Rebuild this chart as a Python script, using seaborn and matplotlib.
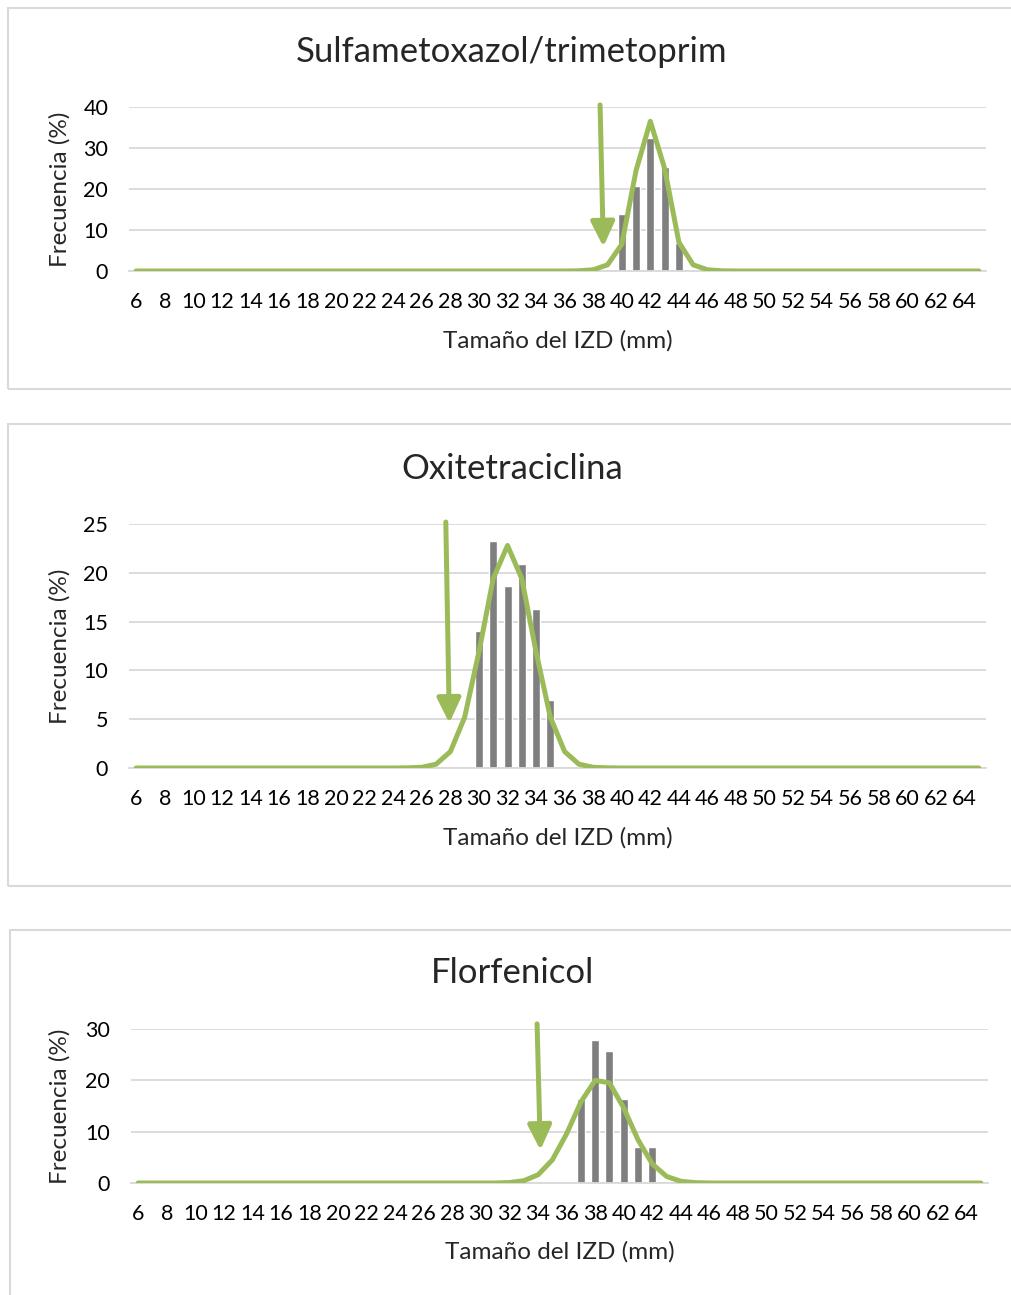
import numpy as np
import matplotlib
matplotlib.use('Agg')
import matplotlib.pyplot as plt
from matplotlib.patches import Rectangle
import seaborn as sns

# zone diameter categories (mm)
mm = list(range(6, 66))

titles = ['Sulfametoxazol/trimetoprim', 'Oxitetraciclina', 'Florfenicol']
x_label = 'Tamaño del IZD (mm)'
y_label = 'Frecuencia (%)'

# observed frequencies (%), first mm value + values
sxt_bar_start = 40
sxt_bars = [13.8, 20.7, 32.4, 25.4, 6.9]
otc_bar_start = 30
otc_bars = [14.0, 23.3, 18.6, 20.9, 16.3, 7.0]
ffc_bar_start = 37
ffc_bars = [16.3, 27.9, 25.7, 16.3, 7.0, 7.0]

# fitted curve (%), first mm value + values
sxt_curve_start = 37
sxt_curve = [0.05, 0.3, 1.5, 6.5, 24.5, 36.5, 25.0, 7.0, 1.5, 0.3, 0.05]
otc_curve_start = 25
otc_curve = [0.02, 0.07, 0.39, 1.68, 5.2, 11.9, 19.4, 22.8, 19.4, 11.9, 5.2, 1.68, 0.39, 0.07, 0.02]
ffc_curve_start = 32
ffc_curve = [0.09, 0.44, 1.6, 4.5, 9.6, 15.8, 20.0, 19.5, 14.6, 8.4, 3.7, 1.27, 0.33, 0.07]

# cut-off arrows (category position top/tip, value top/tip)
arrow_x_top = [32.48, 21.68, 27.93]
arrow_x_tip = [32.71, 21.93, 28.16]
arrow_y_top = [40.5, 25.2, 31.0]
arrow_y_tip = [5.9, 4.6, 6.4]

y_max = [40, 25, 30]
y_step = [10, 5, 10]

GREEN = '#9bbb59'
GREY = '#7f7f7f'
LIGHT = '#d9d9d9'

W, H = 1011, 1295

sns.set_style('white')
plt.rcParams['font.family'] = ['Lato', 'DejaVu Sans']


def full(start, vals):
    out = [0.0] * len(mm)
    for i, v in enumerate(vals):
        out[mm.index(start + i)] = v
    return out


bars = [full(sxt_bar_start, sxt_bars), full(otc_bar_start, otc_bars), full(ffc_bar_start, ffc_bars)]
curves = [full(sxt_curve_start, sxt_curve), full(otc_curve_start, otc_curve), full(ffc_curve_start, ffc_curve)]

# layout in pixels: plot area (left, right, top, bottom), chart border (left, top, bottom)
plot_px = [(129, 986, 107, 271), (129, 986, 524, 768), (131, 988, 1029, 1183)]
border_px = [(8, 8, 389), (8, 424, 886), (10, 930, 1310)]
title_y = [52, 469, 973]
xlab_y = [341, 838, 1252]

fig = plt.figure(figsize=(W / 100, H / 100), dpi=100)

for k in range(3):
    bl, bt, bb = border_px[k]
    fig.patches.append(Rectangle((bl / W, 1 - bb / H), (W + 20 - bl) / W, (bb - bt) / H,
                                 transform=fig.transFigure, fill=False,
                                 edgecolor=LIGHT, lw=1.5, zorder=0))

    l, r, t, b = plot_px[k]
    ax = fig.add_axes([l / W, 1 - b / H, (r - l) / W, (b - t) / H])

    sns.barplot(x=mm, y=bars[k], color=GREY, saturation=1, width=0.56, ax=ax, zorder=2)
    sns.lineplot(x=np.arange(len(mm)), y=curves[k], color=GREEN, lw=3.6, ax=ax,
                 solid_joinstyle='round', solid_capstyle='round', zorder=3)

    ax.annotate('', xy=(arrow_x_tip[k], arrow_y_tip[k]), xytext=(arrow_x_top[k], arrow_y_top[k]),
                arrowprops=dict(arrowstyle='-|>,head_length=0.75,head_width=0.36',
                                color=GREEN, lw=3.6, shrinkA=0, shrinkB=0, mutation_scale=20),
                annotation_clip=False, zorder=4)

    ax.set_xlim(-0.5, len(mm) - 0.5)
    ax.set_ylim(0, y_max[k])
    ax.set_yticks(range(0, y_max[k] + 1, y_step[k]))
    ax.set_xticks(range(0, len(mm), 2))
    ax.set_xticklabels([str(v) for v in mm[::2]])
    ax.tick_params(axis='both', length=0, labelsize=15.5, colors='#000000')
    ax.tick_params(axis='y', pad=15)
    ax.tick_params(axis='x', pad=15)
    ax.grid(axis='y', color=LIGHT, lw=1.3)
    ax.set_axisbelow(True)
    for side in ['top', 'right', 'left']:
        ax.spines[side].set_visible(False)
    ax.spines['bottom'].set_color(LIGHT)
    ax.spines['bottom'].set_linewidth(1.3)
    ax.set_xlabel('')
    ax.set_ylabel('')

    fig.text(512 / W, 1 - title_y[k] / H, titles[k], ha='center', va='center', fontsize=25)
    fig.text((l + r) / 2 / W, 1 - xlab_y[k] / H, x_label, ha='center', va='center', fontsize=17.5)
    fig.text(60 / W, 1 - (t + b) / 2 / H, y_label, ha='center', va='center', rotation=90, fontsize=17.5)

fig.savefig('out.png', dpi=100)
